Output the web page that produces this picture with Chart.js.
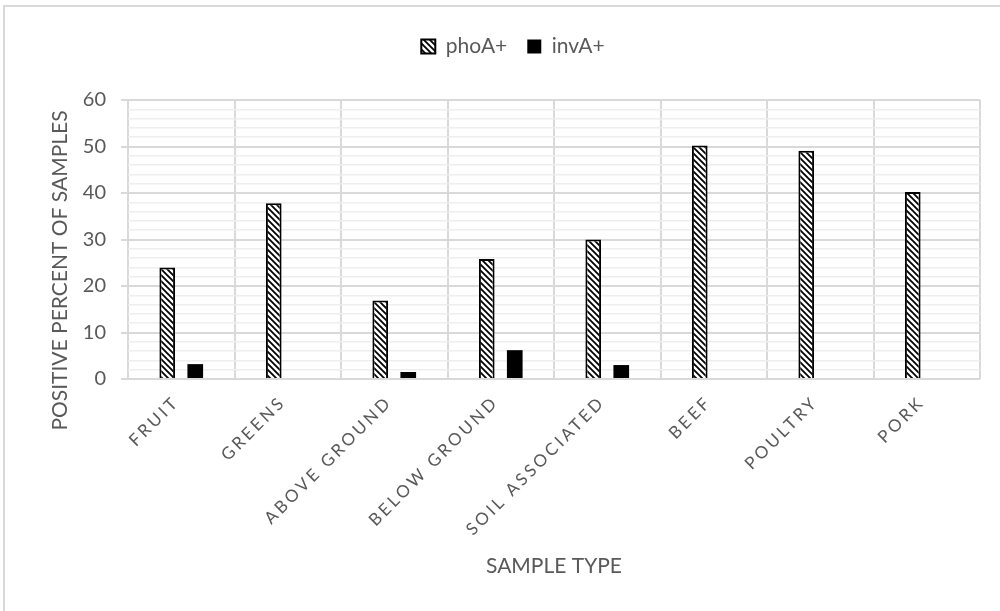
<!DOCTYPE html>
<html>
<head>
<meta charset="utf-8">
<script src="https://cdn.jsdelivr.net/npm/chart.js@4.4.0/dist/chart.umd.min.js"></script>
<style>
  html, body { margin: 0; padding: 0; background: #ffffff; }
  #frame { position: absolute; left: 3px; top: 5px; width: 1100px; height: 700px;
           border-left: 2px solid #d9d9d9; border-top: 2px solid #d9d9d9; }
  #wrap { position: absolute; left: 0; top: 0; width: 1000px; height: 611px; }
</style>
</head>
<body>
<div id="frame"></div>
<div id="wrap"><canvas id="c" width="1000" height="611"></canvas></div>
<script>
// Sample types and the share of positive samples for each marker gene
const categories = ['FRUIT', 'GREENS', 'ABOVE GROUND', 'BELOW GROUND', 'SOIL ASSOCIATED', 'BEEF', 'POULTRY', 'PORK'];
const phoA = [24.0, 37.8, 16.9, 25.8, 30.0, 50.2, 49.1, 40.2];
const invA = [3.2, 0, 1.5, 6.2, 3.0, 0, 0, 0];
const seriesNames = ['phoA+', 'invA+'];
const yMin = 0, yMax = 60, yMajorStep = 10, yMinorStep = 2;
const xTitle = 'SAMPLE TYPE';
const yTitle = 'POSITIVE PERCENT OF SAMPLES';

const TEXT = '#595959';
const FONT = 'Lato';

// Diagonal hatch fill for the phoA+ bars
function hatchPattern() {
  const s = 6;
  const c = document.createElement('canvas');
  c.width = s; c.height = s;
  const g = c.getContext('2d');
  g.fillStyle = '#ffffff';
  g.fillRect(0, 0, s, s);
  g.strokeStyle = '#000000';
  g.lineWidth = 1.8;
  g.beginPath();
  g.moveTo(-1, -1); g.lineTo(s + 1, s + 1);
  g.moveTo(-1, s - 1); g.lineTo(1, s + 1);
  g.moveTo(s - 1, -1); g.lineTo(s + 1, 1);
  g.stroke();
  return g.createPattern(c, 'repeat');
}

// Wider letter spacing for the category labels
const spacedLabels = {
  id: 'spacedLabels',
  beforeDraw(chart) {
    const s = chart.scales.x;
    if (s && !s.__spaced) {
      const orig = s.drawLabels;
      s.drawLabels = function (area) {
        const c = this.ctx;
        c.save();
        c.letterSpacing = '3px';
        orig.call(this, area);
        c.restore();
      };
      s.__spaced = true;
    }
  }
};

// Fixed legend band height
const legendBand = {
  id: 'legendBand',
  beforeLayout(chart) {
    const lg = chart.legend;
    if (lg && !lg.__fixed) {
      const f = lg.fit;
      lg.fit = function () { f.call(this); this.height = 84; };
      lg.__fixed = true;
    }
  }
};

// Vertical value-axis title
const yTitlePlugin = {
  id: 'yTitlePlugin',
  afterDraw(chart) {
    const { ctx, chartArea } = chart;
    ctx.save();
    ctx.translate(60, (chartArea.top + chartArea.bottom) / 2 + 31);
    ctx.rotate(-Math.PI / 2);
    ctx.font = '21px ' + FONT;
    ctx.fillStyle = TEXT;
    ctx.textAlign = 'center';
    ctx.textBaseline = 'middle';
    ctx.fillText(yTitle, 0, 0);
    ctx.restore();
  }
};

const isMajor = (c) => c.tick && c.tick.value % yMajorStep === 0;

new Chart(document.getElementById('c'), {
  type: 'bar',
  data: {
    labels: categories,
    datasets: [
      { label: seriesNames[0], data: phoA, backgroundColor: hatchPattern(), borderColor: '#000000',
        borderWidth: 2, categoryPercentage: 0.526, barPercentage: 0.56 },
      { label: seriesNames[1], data: invA, backgroundColor: '#000000', borderColor: '#000000',
        borderWidth: 0, categoryPercentage: 0.526, barPercentage: 0.56 }
    ]
  },
  options: {
    responsive: false,
    animation: false,
    layout: { padding: { left: 46, right: 20, top: 16, bottom: 0 } },
    plugins: {
      legend: {
        position: 'top',
        labels: { boxWidth: 14, boxHeight: 14, padding: 20, color: TEXT, font: { family: FONT, size: 21 } }
      },
      tooltip: { enabled: false }
    },
    scales: {
      x: {
        grid: { color: '#d9d9d9', lineWidth: 2, drawTicks: false, offset: true },
        border: { display: false },
        ticks: { minRotation: 45, maxRotation: 45, autoSkip: false, padding: 13, labelOffset: -5,
                 color: TEXT, font: { family: FONT, size: 17 } },
        title: { display: true, text: xTitle, color: TEXT, font: { family: FONT, size: 21 },
                 padding: { top: 0, bottom: 32 } },
        afterFit(s) { s.height = 232; }
      },
      y: {
        min: yMin, max: yMax,
        grid: {
          color: (c) => isMajor(c) ? '#d9d9d9' : '#eeeeee',
          lineWidth: (c) => isMajor(c) ? 2 : 1.5,
          drawTicks: true, tickLength: 7,
          tickColor: (c) => isMajor(c) ? '#d9d9d9' : 'rgba(0,0,0,0)'
        },
        border: { display: false },
        ticks: { stepSize: yMinorStep, autoSkip: false, padding: 15, color: TEXT,
                 font: { family: FONT, size: 20 },
                 callback: (v) => v % yMajorStep === 0 ? v : '' },
        afterFit(s) { s.width = 82; }
      }
    }
  },
  plugins: [spacedLabels, legendBand, yTitlePlugin]
});
</script>
</body>
</html>
